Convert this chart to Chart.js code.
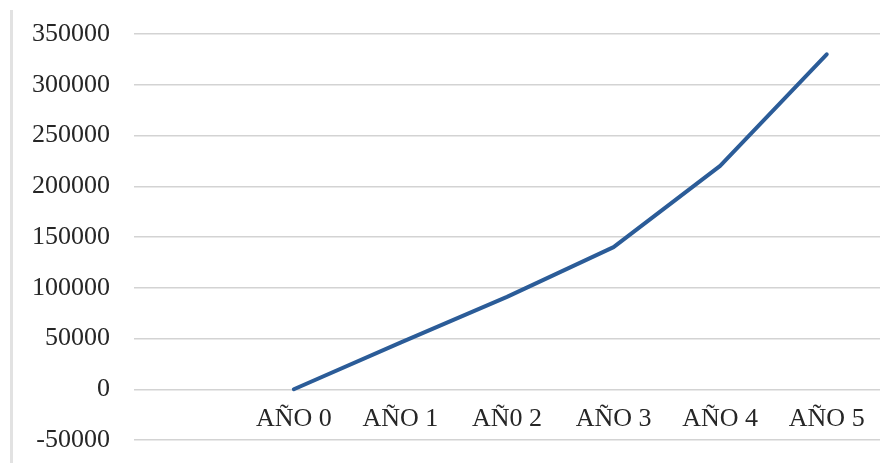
<!DOCTYPE html>
<html>
<head>
<meta charset="utf-8">
<script src="https://cdn.jsdelivr.net/npm/chart.js@4"></script>
<style>
  html, body { margin: 0; padding: 0; background: #ffffff; }
  #wrap { position: relative; width: 893px; height: 463px; overflow: hidden; }
  #edge { position: absolute; left: 10px; top: 10px; width: 3px; height: 453px; background: #e2e2e2; }
  canvas { position: absolute; left: 0; top: 0; }
</style>
</head>
<body>
<div id="wrap">
  <div id="edge"></div>
  <canvas id="c" width="893" height="463"></canvas>
</div>
<script>
const categories = ['', 'AÑO 0', 'AÑO 1', 'AÑ0 2', 'AÑO 3', 'AÑO 4', 'AÑO 5'];
const values = [null, 0, 46000, 91000, 140000, 220000, 330000];
const yMin = -50000;
const yMax = 350000;
const yStep = 50000;

const fontFamily = '"Liberation Serif", "Times New Roman", serif';

new Chart(document.getElementById('c'), {
  type: 'line',
  data: {
    labels: categories,
    datasets: [{
      data: values,
      borderColor: '#2b5c98',
      borderWidth: 4,
      borderCapStyle: 'round',
      borderJoinStyle: 'round',
      pointRadius: 0,
      pointHoverRadius: 0,
      tension: 0,
      fill: false
    }]
  },
  options: {
    responsive: false,
    devicePixelRatio: 1,
    animation: false,
    layout: { padding: { top: 34, bottom: 23, left: 0, right: 13 } },
    plugins: {
      legend: { display: false },
      tooltip: { enabled: false },
      title: { display: false }
    },
    scales: {
      x: {
        type: 'category',
        offset: true,
        position: { y: 0 },
        grid: { display: false, drawTicks: false },
        border: { display: false },
        ticks: {
          color: '#262626',
          font: { family: fontFamily, size: 26 },
          padding: 14,
          maxRotation: 0,
          autoSkip: false
        },
        afterFit: (scale) => {
          scale.height = 0;
          scale.paddingLeft = 0;
          scale.paddingRight = 0;
        }
      },
      y: {
        min: yMin,
        max: yMax,
        grid: { color: '#d3d3d3', lineWidth: 1.5, drawTicks: false },
        border: { display: false },
        ticks: {
          stepSize: yStep,
          color: '#262626',
          font: { family: fontFamily, size: 26 },
          padding: 24,
          callback: (v) => String(v)
        },
        afterFit: (scale) => {
          scale.width = 134;
          scale.paddingTop = 0;
          scale.paddingBottom = 0;
        }
      }
    }
  }
});
</script>
</body>
</html>
